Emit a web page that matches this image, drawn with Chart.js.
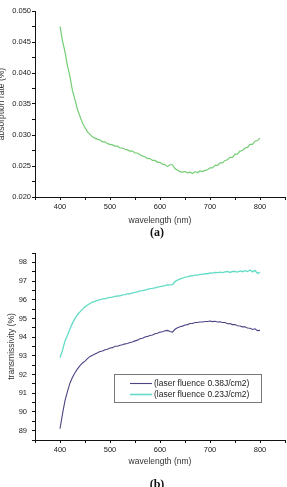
<!DOCTYPE html>
<html>
<head>
<meta charset="utf-8">
<script src="https://cdn.jsdelivr.net/npm/chart.js@4.4.1/dist/chart.umd.min.js"></script>
<style>
  body { margin: 0; background: #fff; width: 287px; height: 487px; overflow: hidden; position: relative; }
  canvas { position: absolute; left: 0; }
  #absChart { top: 0; }
  #transChart { top: 240px; }
  .cap { position: absolute; width: 30px; text-align: center; font: bold 12px "Liberation Serif", "DejaVu Serif", serif; color: #111; }
</style>
</head>
<body>
<canvas id="absChart" width="287" height="240"></canvas>
<canvas id="transChart" width="287" height="247"></canvas>
<div class="cap" style="left:142px; top:225px;">(a)</div>
<div class="cap" style="left:142px; top:477px;">(b)</div>
<script>
// wavelength (nm), 5 nm steps
const wavelength = [400, 405, 410, 415, 420, 425, 430, 435, 440, 445,
    450, 455, 460, 465, 470, 475, 480, 485, 490, 495,
    500, 505, 510, 515, 520, 525, 530, 535, 540, 545,
    550, 555, 560, 565, 570, 575, 580, 585, 590, 595,
    600, 605, 610, 615, 620, 625, 630, 635, 640, 645,
    650, 655, 660, 665, 670, 675, 680, 685, 690, 695,
    700, 705, 710, 715, 720, 725, 730, 735, 740, 745,
    750, 755, 760, 765, 770, 775, 780, 785, 790, 795, 800];

// (a) absorption rate
const absorptionRate = [0.0475, 0.0452, 0.0434, 0.0411, 0.0394, 0.0371, 0.0357, 0.0341, 0.0330, 0.0319,
    0.0312, 0.0305, 0.0301, 0.0297, 0.0295, 0.0293, 0.0292, 0.0289, 0.0289, 0.0286,
    0.0285, 0.0284, 0.0282, 0.0282, 0.0279, 0.0279, 0.0277, 0.0276, 0.0274, 0.0274,
    0.0271, 0.0271, 0.0268, 0.0266, 0.0265, 0.0262, 0.0262, 0.0259, 0.0259, 0.0256,
    0.0256, 0.0253, 0.0252, 0.0249, 0.0252, 0.0252, 0.0246, 0.0243, 0.0241, 0.0240,
    0.0241, 0.0239, 0.0240, 0.0238, 0.0241, 0.0239, 0.0242, 0.0241, 0.0243, 0.0244,
    0.0247, 0.0247, 0.0251, 0.0251, 0.0255, 0.0255, 0.0259, 0.0260, 0.0264, 0.0264,
    0.0269, 0.0269, 0.0274, 0.0275, 0.0279, 0.0280, 0.0285, 0.0285, 0.0290, 0.0291, 0.0295];

// (b) transmissivity
const trans038 = [89.10, 89.90, 90.60, 91.10, 91.55, 91.85, 92.10, 92.30, 92.48, 92.62,
    92.72, 92.85, 92.97, 93.03, 93.10, 93.16, 93.23, 93.26, 93.33, 93.35,
    93.42, 93.44, 93.51, 93.51, 93.57, 93.59, 93.64, 93.66, 93.71, 93.74,
    93.80, 93.84, 93.91, 93.94, 94.01, 94.04, 94.09, 94.11, 94.18, 94.21,
    94.27, 94.29, 94.34, 94.36, 94.30, 94.27, 94.42, 94.50, 94.56, 94.59,
    94.65, 94.67, 94.73, 94.73, 94.78, 94.78, 94.81, 94.81, 94.84, 94.84,
    94.86, 94.83, 94.85, 94.81, 94.82, 94.78, 94.78, 94.72, 94.73, 94.67,
    94.67, 94.61, 94.60, 94.55, 94.55, 94.49, 94.48, 94.41, 94.45, 94.35, 94.36];

const trans023 = [92.90, 93.30, 93.80, 94.10, 94.45, 94.75, 95.00, 95.20, 95.35, 95.50,
    95.62, 95.72, 95.80, 95.87, 95.91, 95.97, 96.00, 96.05, 96.05, 96.10,
    96.13, 96.14, 96.18, 96.20, 96.21, 96.26, 96.27, 96.31, 96.32, 96.37,
    96.39, 96.42, 96.47, 96.49, 96.52, 96.55, 96.59, 96.61, 96.64, 96.68,
    96.70, 96.73, 96.75, 96.79, 96.80, 96.81, 96.97, 97.05, 97.12, 97.15,
    97.21, 97.22, 97.27, 97.28, 97.32, 97.32, 97.36, 97.36, 97.40, 97.39,
    97.43, 97.42, 97.46, 97.45, 97.48, 97.45, 97.49, 97.51, 97.46, 97.51,
    97.52, 97.48, 97.54, 97.50, 97.56, 97.51, 97.59, 97.49, 97.57, 97.41, 97.46];

const seriesLabels = ['(laser fluence 0.38J/cm2)', '(laser fluence 0.23J/cm2)'];

const toPoints = (ys) => wavelength.map((x, i) => ({ x: x, y: ys[i] }));

const tickFont = { family: '"Liberation Sans", Arial, sans-serif', size: 7.5 };
const titleFont = { family: '"Liberation Sans", Arial, sans-serif', size: 8.5 };

function xAxis(height, titlePad) {
    return {
        type: 'linear', min: 350, max: 850,
        border: { display: true, color: '#111', width: 1 },
        grid: { drawOnChartArea: false, drawTicks: true, tickLength: 3, tickColor: '#111' },
        ticks: {
            stepSize: 50, autoSkip: false, maxRotation: 0, padding: 2,
            color: '#222', font: tickFont,
            callback: (v) => (v % 100 === 0 && v >= 400 && v <= 800) ? String(v) : ''
        },
        title: { display: true, text: 'wavelength (nm)', color: '#333', font: titleFont,
                 padding: { top: 0, bottom: titlePad } },
        afterFit: (scale) => { scale.height = height; }
    };
}

// legend box drawn inside the plot area
const boxLegend = {
    id: 'boxLegend',
    afterDraw(chart) {
        const ctx = chart.ctx, a = chart.chartArea;
        const x = Math.round(a.left + 79), y = Math.round(a.top + 121), w = 147, h = 28;
        ctx.save();
        ctx.strokeStyle = '#777';
        ctx.lineWidth = 1;
        ctx.strokeRect(x + 0.5, y + 0.5, w, h);
        ctx.font = '8.5px "Liberation Sans", Arial, sans-serif';
        ctx.textBaseline = 'middle';
        chart.data.datasets.forEach((ds, i) => {
            const ly = y + 9.5 + i * 11;
            ctx.strokeStyle = ds.borderColor;
            ctx.lineWidth = ds.borderWidth + 0.3 * i;
            ctx.beginPath();
            ctx.moveTo(x + 16, ly);
            ctx.lineTo(x + 38, ly);
            ctx.stroke();
            ctx.fillStyle = '#222';
            ctx.fillText(ds.label, x + 40, ly);
        });
        ctx.restore();
    }
};

new Chart(document.getElementById('absChart'), {
    type: 'line',
    data: {
        datasets: [{
            label: 'absorption rate',
            data: toPoints(absorptionRate),
            borderColor: '#74cc74',
            borderWidth: 1.2,
            pointRadius: 0,
            tension: 0
        }]
    },
    options: {
        responsive: false, animation: false, devicePixelRatio: 1,
        layout: { padding: { top: 11, right: 2, left: 0, bottom: 0 } },
        plugins: { legend: { display: false }, tooltip: { enabled: false } },
        scales: {
            x: xAxis(43, 14),
            y: {
                min: 0.02, max: 0.05,
                border: { display: true, color: '#111', width: 1 },
                grid: { drawOnChartArea: false, drawTicks: true, tickLength: 3, tickColor: '#111' },
                ticks: {
                    stepSize: 0.0025, autoSkip: false, padding: 1, color: '#222', font: tickFont,
                    callback: (v) => Math.round(v * 10000) % 50 === 0 ? v.toFixed(3) : ''
                },
                title: { display: true, text: 'absorption rate (%)', color: '#333', font: titleFont,
                         padding: { top: -3, bottom: 0 } },
                afterFit: (scale) => { scale.width = 35; }
            }
        }
    }
});

new Chart(document.getElementById('transChart'), {
    type: 'line',
    data: {
        datasets: [{
            label: seriesLabels[0],
            data: toPoints(trans038),
            borderColor: '#4a4685',
            borderWidth: 1.1,
            pointRadius: 0,
            tension: 0
        }, {
            label: seriesLabels[1],
            data: toPoints(trans023),
            borderColor: '#62dcc6',
            borderWidth: 1.3,
            pointRadius: 0,
            tension: 0
        }]
    },
    options: {
        responsive: false, animation: false, devicePixelRatio: 1,
        layout: { padding: { top: 13, right: 2, left: 0, bottom: 0 } },
        plugins: { legend: { display: false }, tooltip: { enabled: false } },
        scales: {
            x: xAxis(47, 20),
            y: {
                min: 88.5, max: 98.5,
                border: { display: true, color: '#111', width: 1 },
                grid: { drawOnChartArea: false, drawTicks: true, tickLength: 3, tickColor: '#111' },
                ticks: {
                    stepSize: 0.5, autoSkip: false, padding: 5, color: '#222', font: tickFont,
                    callback: (v) => Number.isInteger(v) ? String(v) : ''
                },
                title: { display: true, text: 'transmissivity (%)', color: '#333', font: titleFont,
                         padding: { top: 7, bottom: 0 } },
                afterFit: (scale) => { scale.width = 35; }
            }
        }
    },
    plugins: [boxLegend]
});
</script>
</body>
</html>
